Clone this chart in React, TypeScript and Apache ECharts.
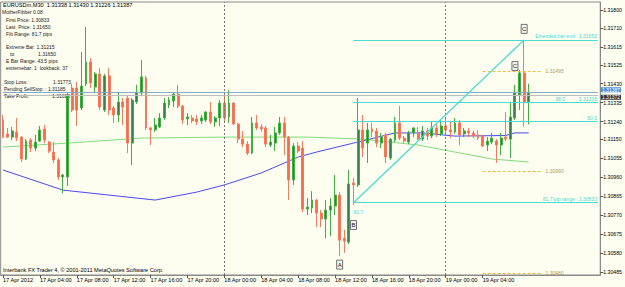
import { useEffect, useRef } from "react";
import * as echarts from "echarts";

// ---------- data ----------
const symbolName = "EURUSDm,M30";
const xTickLabels = [
  "17 Apr 2012", "17 Apr 04:00", "17 Apr 08:00", "17 Apr 12:00", "17 Apr 16:00",
  "17 Apr 20:00", "18 Apr 00:00", "18 Apr 04:00", "18 Apr 08:00", "18 Apr 12:00",
  "18 Apr 16:00", "18 Apr 20:00", "19 Apr 00:00", "19 Apr 04:00", "19 Apr 08:00",
];
const barsPerTick = 8;
const totalSlots = 130; // bars + empty right shift area
const yTicks = [
  1.30485, 1.3058, 1.30675, 1.3077, 1.30865, 1.3096, 1.31055, 1.3115,
  1.3124, 1.31335, 1.3143, 1.31525, 1.31615, 1.3171, 1.318,
];
const yMin = 1.3047;
const yMax = 1.3184;

// [open, close, low, high]
const candles: number[][] = [
  [1.31248, 1.31162, 1.31157, 1.31273],
  [1.31178, 1.31162, 1.31157, 1.31208],
  [1.31162, 1.31193, 1.31147, 1.31213],
  [1.31188, 1.31157, 1.31142, 1.31258],
  [1.31162, 1.31052, 1.31037, 1.31167],
  [1.31052, 1.31142, 1.31047, 1.31152],
  [1.31147, 1.31107, 1.31087, 1.31157],
  [1.31107, 1.31137, 1.31092, 1.31173],
  [1.31142, 1.31198, 1.31137, 1.31218],
  [1.31203, 1.31147, 1.31132, 1.31223],
  [1.31137, 1.31092, 1.31082, 1.31142],
  [1.31087, 1.31047, 1.31032, 1.31137],
  [1.31047, 1.30962, 1.30947, 1.31057],
  [1.30962, 1.30972, 1.30881, 1.30977],
  [1.30962, 1.31368, 1.30917, 1.31388],
  [1.31408, 1.31298, 1.31288, 1.31429],
  [1.31408, 1.31298, 1.31218, 1.31439],
  [1.31308, 1.31418, 1.31298, 1.31589],
  [1.31429, 1.31539, 1.31418, 1.31715],
  [1.31539, 1.31434, 1.31408, 1.31559],
  [1.31413, 1.31479, 1.31388, 1.31489],
  [1.31479, 1.31313, 1.31298, 1.31509],
  [1.31298, 1.31469, 1.31288, 1.31479],
  [1.31469, 1.31298, 1.31273, 1.31509],
  [1.31308, 1.31273, 1.31233, 1.31318],
  [1.31273, 1.31338, 1.31238, 1.31388],
  [1.31338, 1.31313, 1.31223, 1.31358],
  [1.31358, 1.31132, 1.31082, 1.31368],
  [1.31132, 1.31348, 1.31022, 1.31358],
  [1.31338, 1.31388, 1.31328, 1.31424],
  [1.31383, 1.31464, 1.31373, 1.31549],
  [1.31459, 1.31208, 1.31198, 1.31469],
  [1.31208, 1.31198, 1.31122, 1.31213],
  [1.31198, 1.31223, 1.31188, 1.31258],
  [1.31213, 1.31258, 1.31208, 1.31283],
  [1.31258, 1.31333, 1.31248, 1.31358],
  [1.31323, 1.31348, 1.31308, 1.31363],
  [1.31343, 1.31378, 1.31313, 1.31388],
  [1.31378, 1.31318, 1.31308, 1.31424],
  [1.31318, 1.31248, 1.31228, 1.31323],
  [1.31253, 1.31263, 1.31223, 1.31283],
  [1.31258, 1.31243, 1.31233, 1.31273],
  [1.31253, 1.31238, 1.31223, 1.31273],
  [1.31243, 1.31258, 1.31228, 1.31273],
  [1.31248, 1.31288, 1.31238, 1.31293],
  [1.31288, 1.31238, 1.31228, 1.31338],
  [1.31238, 1.31258, 1.31213, 1.31268],
  [1.31258, 1.31333, 1.31218, 1.31348],
  [1.31333, 1.31258, 1.31233, 1.31373],
  [1.31263, 1.31333, 1.31233, 1.31398],
  [1.31333, 1.31228, 1.31223, 1.31338],
  [1.31228, 1.31152, 1.31132, 1.31233],
  [1.31152, 1.31127, 1.31112, 1.31193],
  [1.31127, 1.31082, 1.31072, 1.31142],
  [1.31082, 1.31233, 1.31077, 1.31263],
  [1.31233, 1.31208, 1.31198, 1.31273],
  [1.31213, 1.31203, 1.31188, 1.31228],
  [1.31208, 1.31127, 1.31112, 1.31218],
  [1.31122, 1.31137, 1.31112, 1.31173],
  [1.31132, 1.31183, 1.31092, 1.31213],
  [1.31183, 1.31233, 1.31173, 1.31263],
  [1.31233, 1.31162, 1.31072, 1.31263],
  [1.31162, 1.30947, 1.30846, 1.31167],
  [1.30947, 1.31117, 1.30922, 1.31132],
  [1.31117, 1.31092, 1.31082, 1.31137],
  [1.31107, 1.30801, 1.30786, 1.31142],
  [1.30801, 1.30811, 1.30771, 1.30856],
  [1.30806, 1.30846, 1.30781, 1.30891],
  [1.30846, 1.30781, 1.30711, 1.30851],
  [1.30781, 1.30751, 1.30711, 1.30796],
  [1.30751, 1.30796, 1.30655, 1.30846],
  [1.30796, 1.30816, 1.30665, 1.30856],
  [1.30816, 1.30871, 1.30771, 1.30972],
  [1.30871, 1.30645, 1.30565, 1.30886],
  [1.30655, 1.3064, 1.3058, 1.30696],
  [1.30635, 1.30927, 1.30625, 1.30997],
  [1.30932, 1.30922, 1.30821, 1.30957],
  [1.30922, 1.31198, 1.30912, 1.31358],
  [1.31198, 1.31107, 1.31062, 1.31273],
  [1.31132, 1.31198, 1.31032, 1.31233],
  [1.31203, 1.31188, 1.31162, 1.31233],
  [1.31193, 1.31132, 1.31112, 1.31208],
  [1.31132, 1.31162, 1.31107, 1.31183],
  [1.31173, 1.31062, 1.31032, 1.31183],
  [1.31057, 1.31152, 1.31047, 1.31157],
  [1.31147, 1.31233, 1.31137, 1.31263],
  [1.31233, 1.31157, 1.31147, 1.31318],
  [1.31157, 1.31142, 1.31132, 1.31167],
  [1.31137, 1.31183, 1.31127, 1.31193],
  [1.31183, 1.31208, 1.31162, 1.31213],
  [1.31183, 1.31152, 1.31147, 1.31213],
  [1.31152, 1.31193, 1.31142, 1.31218],
  [1.31193, 1.31167, 1.31147, 1.31208],
  [1.31167, 1.31208, 1.31157, 1.31238],
  [1.31208, 1.31178, 1.31162, 1.31228],
  [1.31178, 1.31218, 1.31167, 1.31248],
  [1.31218, 1.31198, 1.31173, 1.31258],
  [1.31198, 1.31188, 1.31157, 1.31238],
  [1.31188, 1.31233, 1.31178, 1.31258],
  [1.31233, 1.31173, 1.31122, 1.31248],
  [1.31178, 1.31193, 1.31162, 1.31208],
  [1.31193, 1.31183, 1.31162, 1.31208],
  [1.31183, 1.31167, 1.31157, 1.31193],
  [1.31173, 1.31157, 1.31147, 1.31198],
  [1.31167, 1.31117, 1.31112, 1.31173],
  [1.31122, 1.31142, 1.31092, 1.31162],
  [1.31137, 1.31157, 1.31127, 1.31183],
  [1.31142, 1.31122, 1.31032, 1.31152],
  [1.31122, 1.31157, 1.31072, 1.31183],
  [1.31162, 1.31152, 1.31142, 1.31288],
  [1.31152, 1.31263, 1.31057, 1.31333],
  [1.31258, 1.31388, 1.31248, 1.31424],
  [1.31373, 1.31484, 1.31298, 1.31499],
  [1.31484, 1.31338, 1.31215, 1.3165],
  [1.31338, 1.31387, 1.31226, 1.3143],
];

// moving averages read at several bars: [barIndex, price]
const maGreen: number[][] = [
  [0, 1.31112], [14, 1.31132], [30, 1.31157], [48, 1.31162], [66, 1.31162],
  [78, 1.31152], [90, 1.31122], [98, 1.31087], [106, 1.31052], [114, 1.31037],
];
const maBlue: number[][] = [
  [0, 1.30997], [13, 1.30896], [23, 1.30871], [33, 1.30846], [42, 1.30886],
  [48, 1.30922], [56, 1.30982], [61, 1.31032], [64, 1.31062], [68, 1.31087],
  [76, 1.31132], [85, 1.31183], [91, 1.31183], [98, 1.31167], [109, 1.3117],
  [111, 1.31183], [114, 1.31183],
];

// fib tool
const fibB = [76, 1.30833];
const fibC = [113, 1.3165];
const fibLevels = [
  { value: 1.3165, text: "Extended bar end   1.31650" },
  { value: 1.31338, text: "38.2          1.31338" },
  { value: 1.312415, text: "50.0" },
  { value: 1.30833, text: "81.7 pip range   1.30833" },
];
const fibRangeNote = { text: "81.7", idx: 76, value: 1.30786 };
const targetLines = [
  { value: 1.31494, text: "1.31495", from: 104, to: 117 },
  { value: 1.30992, text: "1.30990", from: 104, to: 117 },
  { value: 1.3048, text: "1.30480", from: 104, to: 117 },
];
const waveLabels = [
  { text: "A", idx: 73, value: 1.30522 },
  { text: "B", idx: 76, value: 1.30721 },
  { text: "C", idx: 113, value: 1.31705 },
  { text: "C", idx: 111, value: 1.31519 },
];
const bidPrice = 1.31387;
const askLinePrice = 1.31372;
const separators = [48, 96];

const infoLines = [
  { t: "MotherFibber 0.08", x: 2, y: 12 },
  { t: "First Price: 1.30833", x: 6, y: 19.5 },
  { t: "Last  Price: 1.31650", x: 6, y: 26.5 },
  { t: "Fib Range: 81.7 pips", x: 6, y: 33.5 },
  { t: "Extreme Bar: 1.31215", x: 6, y: 47 },
  { t: "to", x: 10, y: 54 },
  { t: "1.31650", x: 38, y: 54 },
  { t: "E Bar Range: 43.5 pips", x: 6, y: 61 },
  { t: "extremebar: 1  lookback: 37", x: 6, y: 68 },
  { t: "Stop Loss:", x: 4, y: 82 },
  { t: "1.31773", x: 53, y: 82 },
  { t: "Pending SellStop: : 1.31185", x: 4, y: 89 },
  { t: "Take Profit:", x: 4, y: 96 },
  { t: "1.31023", x: 52, y: 96 },
];
const copyright = "Interbank FX Trader 4, \u00a9 2001-2011 MetaQuotes Software Corp.";

// ---------- chart ----------
const FONT = '"Liberation Sans", Arial, sans-serif';
const CYAN = "#45dcd2";

export default function App() {
  const ref = useRef<HTMLDivElement>(null);

  useEffect(() => {
    if (!ref.current) return;
    const chart = echarts.init(ref.current, undefined, { renderer: "svg" });
    const categories = Array.from({ length: totalSlots }, (_, i) => "b" + i);
    const showTick = (i: number) =>
      i % barsPerTick === 0 && i / barsPerTick < xTickLabels.length;
    const last = candles[candles.length - 1];
    const header = `${symbolName}  ${last[0].toFixed(5)} ${last[3].toFixed(5)} ${last[2].toFixed(5)} ${last[1].toFixed(5)}`;
    const lastSlot = totalSlots - 1;

    const priceTag = (value: number, bg: string, lineColor: string, width: number, dy: number) => [
      {
        coord: [0, value],
        lineStyle: { color: lineColor, width, type: "solid" },
        label: {
          show: true, position: "end", distance: 3, formatter: value.toFixed(5),
          backgroundColor: bg, color: "#fff", fontSize: 5, fontFamily: FONT,
          padding: [0, 1], offset: [0, dy],
        },
      },
      { coord: [lastSlot, value] },
    ];

    const option: any = {
      animation: false,
      backgroundColor: "#fdfdf0",
      grid: {
        left: 0, right: 21, top: 2, bottom: 12,
        show: true, borderColor: "#8a8a8a", borderWidth: 1,
        backgroundColor: "transparent",
      },
      xAxis: {
        type: "category",
        data: categories,
        boundaryGap: true,
        axisLine: { show: true, lineStyle: { color: "#8a8a8a" } },
        axisTick: {
          show: true, alignWithLabel: true, length: 3,
          interval: (i: number) => showTick(i),
          lineStyle: { color: "#555" },
        },
        axisLabel: {
          interval: (i: number) => showTick(i),
          formatter: (_v: string, i: number) =>
            showTick(i) ? xTickLabels[i / barsPerTick] : "",
          align: "left",
          fontSize: 5.6,
          fontFamily: FONT,
          color: "#000",
          margin: 2,
          showMaxLabel: false,
          showMinLabel: true,
        },
        splitLine: { show: false },
      },
      yAxis: {
        type: "value",
        position: "right",
        min: yMin,
        max: yMax,
        axisLine: { show: true, lineStyle: { color: "#8a8a8a" } },
        axisTick: { show: true, inside: false, length: 3, customValues: yTicks, lineStyle: { color: "#555" } },
        axisLabel: {
          customValues: yTicks,
          formatter: (v: number) => v.toFixed(5),
          fontSize: 5.2,
          fontFamily: FONT,
          color: "#000",
          margin: 3,
        },
        splitLine: { show: false },
      },
      series: [
        {
          // bid / ask price lines
          type: "line",
          data: [],
          z: 2,
          markLine: {
            silent: true,
            symbol: "none",
            animation: false,
            data: [
              priceTag(askLinePrice, "#333", "#bdbdbd", 1, 2),
              priceTag(bidPrice, "#4a8fd8", "#86acc9", 1.2, -2.5),
            ],
          },
        },
        {
          type: "candlestick",
          data: candles,
          barWidth: 2.4,
          z: 3,
          itemStyle: {
            color: "#3a7d4e",
            color0: "#fb6a4c",
            borderColor: "#3fb03f",
            borderColor0: "#f9785c",
            borderWidth: 1,
          },
        },
        {
          // day separators
          type: "line",
          data: [],
          z: 2,
          markLine: {
            silent: true,
            symbol: "none",
            animation: false,
            label: { show: false },
            lineStyle: { color: "#777", type: [2, 2], width: 1 },
            data: separators.map((s) => [{ coord: [s, yMin] }, { coord: [s, yMax] }]),
          },
        },
        {
          type: "line",
          data: maGreen,
          symbol: "none",
          lineStyle: { color: "#7edc7e", width: 1 },
          z: 3,
        },
        {
          type: "line",
          data: maBlue,
          symbol: "none",
          lineStyle: { color: "#4a4af2", width: 1 },
          z: 3,
        },
        {
          // fib levels
          type: "line",
          data: [],
          z: 4,
          markLine: {
            silent: true,
            symbol: "none",
            animation: false,
            lineStyle: { color: CYAN, type: "solid", width: 1 },
            label: {
              show: true, position: "insideEndTop", color: CYAN,
              fontSize: 5, fontFamily: FONT, distance: 1,
            },
            data: fibLevels.map((l) => [
              { coord: [fibB[0], l.value], label: { formatter: l.text } },
              { coord: [lastSlot, l.value] },
            ]),
          },
        },
        {
          // target lines
          type: "line",
          data: [],
          z: 4,
          markLine: {
            silent: true,
            symbol: "none",
            animation: false,
            lineStyle: { color: "#f2b848", type: [3, 2], width: 1 },
            label: {
              show: true, position: "end", color: "#aa9a58",
              fontSize: 5, fontFamily: FONT, distance: 3,
            },
            data: targetLines.map((l) => [
              { coord: [l.from, l.value], label: { formatter: l.text } },
              { coord: [l.to, l.value] },
            ]),
          },
        },
        {
          // fib anchor line B -> C with wave labels
          type: "line",
          data: [fibB, fibC],
          symbol: "rect",
          symbolSize: 4,
          showSymbol: true,
          itemStyle: { color: "#fdfdf0", borderColor: CYAN, borderWidth: 1 },
          lineStyle: { color: CYAN, width: 1.3 },
          z: 5,
          markPoint: {
            silent: true,
            animation: false,
            data: [
              ...waveLabels.map((w) => ({
                coord: [w.idx, w.value],
                symbol: "rect",
                symbolSize: [6, 9],
                itemStyle: { color: "#f2f2ee", borderColor: "#555", borderWidth: 0.8 },
                label: {
                  show: true, position: "inside", formatter: w.text,
                  color: "#222", fontSize: 6, fontFamily: FONT,
                },
              })),
              {
                coord: [fibRangeNote.idx, fibRangeNote.value],
                symbol: "rect",
                symbolSize: 0.1,
                itemStyle: { color: "transparent" },
                label: {
                  show: true, position: "right", distance: 0, formatter: fibRangeNote.text,
                  color: CYAN, fontSize: 5, fontFamily: FONT,
                },
              },
            ],
          },
        },
      ],
      graphic: [
        {
          type: "text", x: 3, y: 5,
          style: { text: header, fontSize: 5.6, fontFamily: FONT, fill: "#000", align: "left", verticalAlign: "middle" },
        },
        ...infoLines.map((l) => ({
          type: "text", x: l.x, y: l.y,
          style: { text: l.t, fontSize: 5, fontFamily: FONT, fill: "#222", align: "left", verticalAlign: "middle" },
        })),
        {
          type: "text", x: 3, y: 270,
          style: { text: copyright, fontSize: 5.6, fontFamily: FONT, fill: "#000", align: "left", verticalAlign: "middle" },
        },
      ],
    };
    chart.setOption(option);
    return () => chart.dispose();
  }, []);

  return (
    <div
      ref={ref}
      style={{ position: "fixed", left: 0, top: 0, width: 625, height: 287, background: "#fdfdf0" }}
    />
  );
}
